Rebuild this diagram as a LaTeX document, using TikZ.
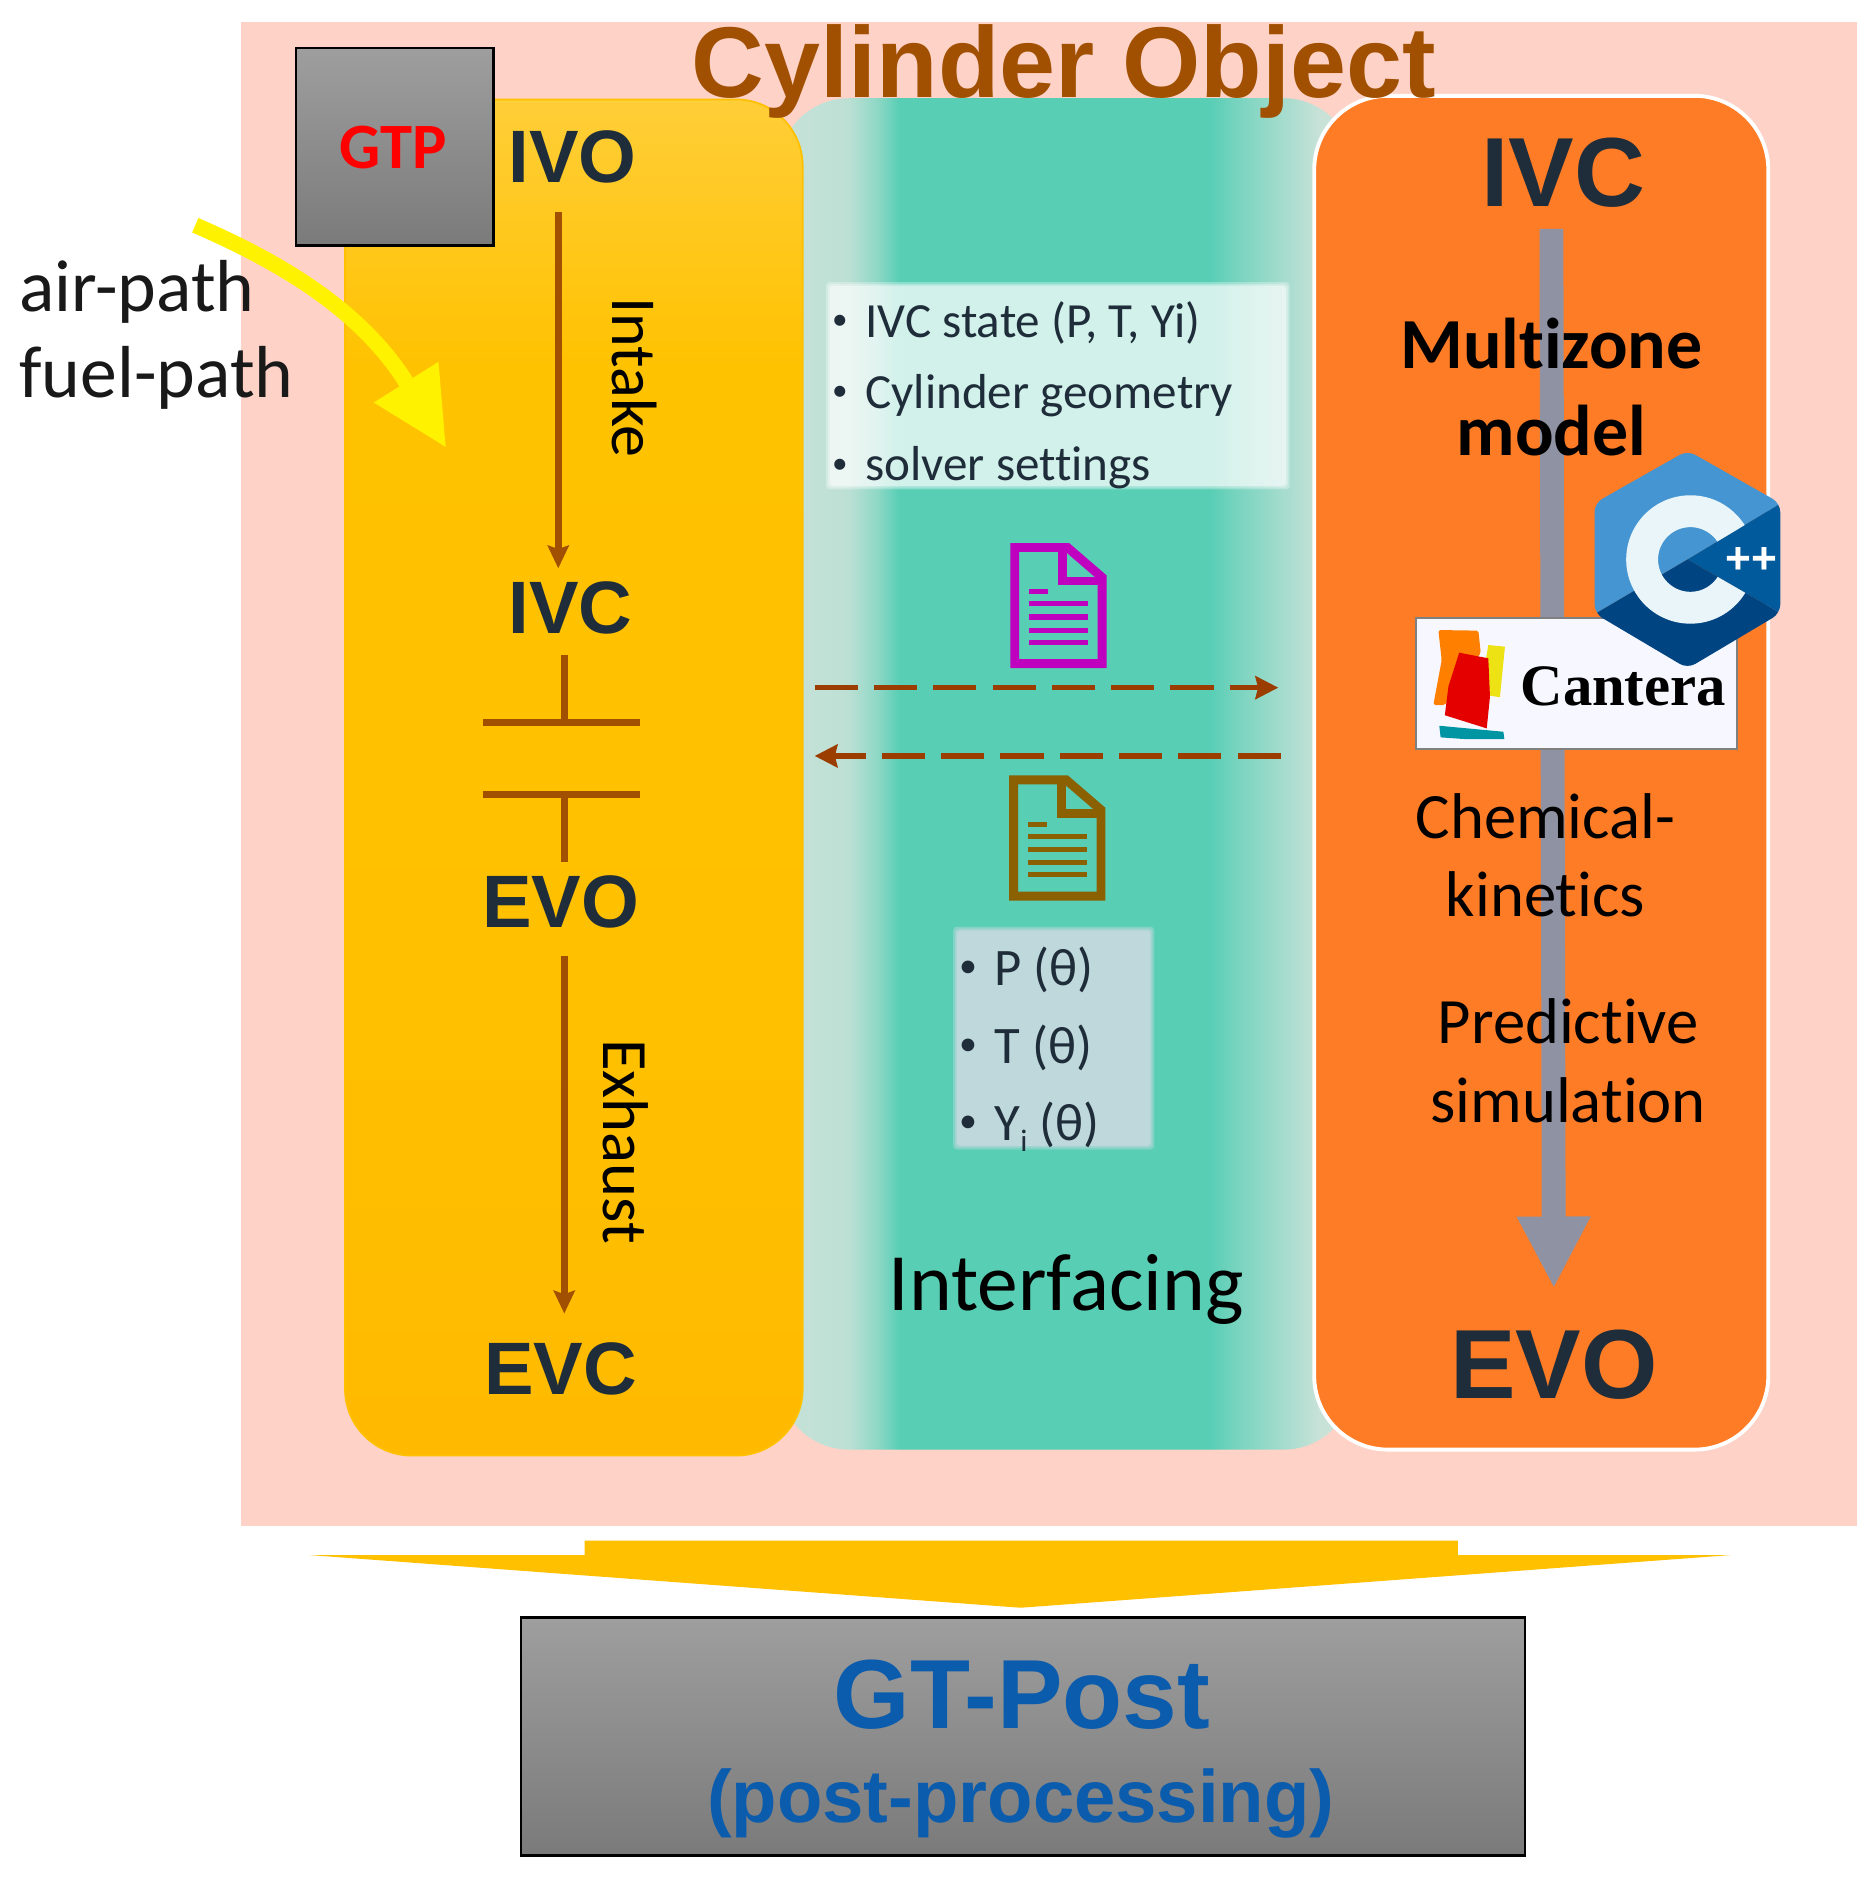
\documentclass[tikz,border=0pt]{standalone}
\usepackage{fontspec}
\usetikzlibrary{arrows.meta,calc}
\setmainfont{Carlito}[Ligatures=NoCommon]
\newfontfamily\arialf{Liberation Sans}
\newfontfamily\timesf{Liberation Serif}
\newcommand\fs[1]{\pgfmathsetlengthmacro\fsz{#1*0.6829pt}\fontsize{\fsz}{\fsz}\selectfont}
\definecolor{pinkbg}{HTML}{FFD2C8}
\definecolor{tealc}{HTML}{58CEB5}
\definecolor{tealedge}{HTML}{C8E2D8}
\definecolor{orangec}{HTML}{FF7C26}
\definecolor{inkc}{HTML}{1F2D3A}
\definecolor{brownc}{HTML}{A05000}
\definecolor{dashc}{HTML}{9C3D00}
\definecolor{goldc}{HTML}{FFC000}
\definecolor{greyarrow}{HTML}{8E92A3}
\definecolor{gtblue}{HTML}{0B5CAD}
\definecolor{titlec}{HTML}{A05000}
\definecolor{docmag}{HTML}{BF00BF}
\definecolor{docbrown}{HTML}{8B6000}
\definecolor{softblue}{HTML}{E5DCEA}
\pgfdeclarehorizontalshading{tealshade}{100bp}{
 color(0bp)=(tealedge); color(25bp)=(tealedge); color(31bp)=(tealedge!90!tealc); color(33.5bp)=(tealedge!50!tealc);
 color(35.5bp)=(tealc); color(62.5bp)=(tealc); color(64.5bp)=(tealc!75!tealedge);
 color(72bp)=(tealedge); color(100bp)=(tealedge)}
\pgfdeclareverticalshading{goldshade}{100bp}{
 color(0bp)=(goldc!90!orange); color(25bp)=(goldc!90!orange); color(40bp)=(goldc);
 color(65bp)=(goldc!97!yellow); color(75bp)=(goldc!78!white); color(100bp)=(goldc!78!white)}
\tikzset{
 x=0.024cm,y=-0.024cm,
 ttxt/.style={inner sep=0pt,anchor=base,text=inkc},
 lefttxt/.style={inner sep=0pt,anchor=base west,text=inkc},
 headA/.style={ttxt,font={\arialf\bfseries\fs{62}}},
 headB/.style={ttxt,font={\arialf\bfseries\fs{82}}},
 body/.style={ttxt,text=black,font=\fs{54}},
 listA/.style={lefttxt,font=\fs{41}},
 listB/.style={lefttxt,font=\fs{44}},
 bulA/.style={ttxt,font=\fs{26}},
 bulB/.style={ttxt,font=\fs{30}},
 sidetxt/.style={inner sep=0pt,rotate=-90,text=black},
 brownline/.style={draw=brownc,line width=4pt},
 brownarrow/.style={brownline,-{Stealth[length=13pt,width=12pt,inset=2pt]}},
 dasharrow/.style={draw=dashc,line width=3pt,dash pattern=on 24.6pt off 9.2pt,-{Stealth[length=13pt,width=13pt,inset=1.5pt]}},
 greybox/.style={draw=black,line width=1.5pt,top color=black!38,bottom color=black!52},
 softbox/.style={rounded corners=2pt},
}
\newcommand\docicon[3]{%
 \begin{scope}[shift={(#1,#2)}]
  \draw[#3,line width=5.1pt,line join=miter] (847,457) -- (891,457) -- (920,482) -- (920,554) -- (847,554) -- cycle;
  \draw[#3,line width=5pt] (887,457) -- (887,485) -- (920,485);
  \draw[#3,line width=3pt] (859,494) -- (875,494) (859,504) -- (908,504) (859,515) -- (908,515) (859,526) -- (908,526) (859,536) -- (908,536);
 \end{scope}}
\newcommand\softrect[5]{%
 \fill[#5,opacity=.3,softbox] (#1-1.5,#2-1.5) rectangle (#3+1.5,#4+1.5);
 \fill[#5,opacity=.3,softbox] (#1,#2) rectangle (#3,#4);
 \fill[#5,opacity=.45,softbox] (#1+1.5,#2+1.5) rectangle (#3-1.5,#4-1.5);}
\begin{document}
\begin{tikzpicture}
\useasboundingbox (0,0) rectangle (1565,1567.6);
\fill[white] (0,0) rectangle (1565,1567.6);
% backgrounds
\fill[pinkbg] (201,18) rectangle (1550,1274);
\shade[shading=tealshade,rounded corners=40pt] (650,82) rectangle (1130,1210);
\shade[shading=goldshade,rounded corners=38pt] (288,83) rectangle (670,1215);
\draw[goldc,line width=1pt,rounded corners=38pt] (288,83) rectangle (670,1215);
\fill[orangec,draw=white,line width=2.2pt,rounded corners=42pt] (1097,80) rectangle (1476,1210);
% title
\node[ttxt,text=titlec,font={\arialf\bfseries\fs{84}}] (title) at (888,81) {Cylinder Object};
% GTP
\path[greybox] (247,40) rectangle (412,205);
\node[ttxt,text=red,font={\bfseries\fs{54}}] (gtp) at (328,141) {GTP};
% left side text
\node[lefttxt,text=black!90,font=\fs{61.5}] (air) at (16,260) {air-path};
\node[lefttxt,text=black!90,font=\fs{61.5}] (fuel) at (16,332) {fuel-path};
% yellow arrow
\coordinate (yS) at (163,188);
\coordinate (yE) at (339,319);
\draw[yellow,line width=9pt] (yS) .. controls (225,215) and (298,254) .. (yE);
\fill[yellow] (366,302) -- (372,373) -- (312,336) -- cycle;
% left panel
\node[headA] (ivo) at (478,152) {IVO};
\node[headA] (ivcm) at (476,529) {IVC};
\node[headA] (evom) at (468,774) {EVO};
\node[headA] (evc) at (468,1164) {EVC};
\draw[brownarrow] ([shift={(-12,24)}]ivo.south) -- ([shift={(-10,-11)}]ivcm.north);
\draw[brownarrow] ([shift={(3,23)}]evom.south) -- ([shift={(3,-24)}]evc.north);
\node[sidetxt,font=\fs{53.5}] (intake) at (530,315) {Intake};
\node[sidetxt,font=\fs{54}] (exhaust) at (522,953) {Exhaust};
\draw[brownline] ([shift={(-5,17)}]ivcm.south) -- (471,603);
\draw[brownline] (403,603) -- (534,603);
\draw[brownline] (403,663) -- (534,663);
\draw[brownline] (471,663) -- ([shift={(3,-11)}]evom.north);
% middle panel
\softrect{691}{237}{1075}{407}{white}
\node[bulA] (b1) at (701,275) {•};
\node[bulA] (b2) at (701,334) {•};
\node[bulA] (b3) at (701,395) {•};
\node[listA] (l1) at (722,282) {IVC state (P, T, Yi)};
\node[listA] (l2) at (722,341) {Cylinder geometry};
\node[listA] (l3) at (722,401) {solver settings};
\docicon{0}{0}{docmag}
\coordinate (d1a) at (680,574);
\coordinate (d1b) at (1067,574);
\coordinate (d2a) at (1069,631);
\coordinate (d2b) at (680,631);
\draw[dasharrow] (d1a) -- (d1b);
\draw[dasharrow] (d2a) -- (d2b);
\docicon{-1}{194}{docbrown}
\softrect{797}{775}{962}{958}{softblue}
\node[bulB] (b4) at (808,816) {•};
\node[bulB] (b5) at (808,881) {•};
\node[bulB] (b6) at (808,945) {•};
\node[listB] (p1) at (830,823) {P (θ)};
\node[listB] (p2) at (830,888) {T (θ)};
\node[listB] (p3) at (830,952) {Y{\fs{26}\raisebox{-6pt}{i}} (θ)};
\node[ttxt,font=\fs{68},text=black] (iface) at (890,1094) {Interfacing};
% right panel
\node[headB] (ivcr) at (1305,172) {IVC};
\node[headB] (evor) at (1297,1167) {EVO};
\draw[greyarrow,line width=13.6pt,-{Triangle[length=41pt,width=39pt]}] ([shift={(-10,18)}]ivcr.south) -- ([shift={(0,-34)}]evor.north);
\node[ttxt,text=black,font={\bfseries\fs{60}}] (mz) at (1295,308) {Multizone};
\node[ttxt,text=black,font={\bfseries\fs{60}}] (mod) at (1295,380) {model};
\node[body] (ch1) at (1290,700) {Chemical-};
\node[body] (ch2) at (1290,765) {kinetics};
\node[body] (pr1) at (1309,871) {Predictive};
\node[body] (pr2) at (1309,937) {simulation};
% Cantera
\fill[white!97!blue,draw=black!50,line width=1.4pt] (1182,516) rectangle (1450,625);
\fill[orange!100!yellow,rounded corners=1pt] (1200.6,525.9) -- (1234,526.4) -- (1236,545) -- (1206,588.5) -- (1196.4,588.5) -- (1203.4,551) -- cycle;
\fill[yellow!92!black] (1242.3,538.4) -- (1256.2,539.8) -- (1252,582) -- (1235.4,579.3) -- cycle;
\fill[red!90!black] (1218,544.8) -- (1242.3,549.5) -- (1243.7,581.5) -- (1241,608) -- (1206,597) -- (1209,573) -- cycle;
\fill[fill={rgb,255:red,0;green,149;blue,163}] (1201.4,605.8) -- (1254.9,610.8) -- (1255.7,617) -- (1224,617) -- (1202.5,615.5) -- cycle;
\node[ttxt,text=black,font={\timesf\bfseries\fs{49}}] (cantera) at (1355,588.5) {Cantera};
% C++ logo
\begin{scope}
 \clip[rounded corners=5pt] (1408.6,376) -- (1486,420) -- (1486,512) -- (1408.6,558) -- (1331,512) -- (1331,420) -- cycle;
 \fill[fill={rgb,255:red,68;green,149;blue,209}] (1408.6,370) -- (1490,418) -- (1408.6,467) -- (1327,515) -- (1327,370) -- cycle;
 \fill[fill={rgb,255:red,0;green,90;blue,156}] (1490,418) -- (1408.6,467) -- (1490,514) -- cycle;
 \fill[fill={rgb,255:red,68;green,149;blue,209}] (1408.6,370) -- (1490,370) -- (1490,418) -- cycle;
 \fill[fill={rgb,255:red,0;green,68;blue,130}] (1408.6,467) -- (1490,514) -- (1490,560) -- (1327,560) -- (1327,515) -- cycle;
 \begin{scope}
  \clip (1408.6,467) -- (1490,418) -- (1490,370) -- (1327,370) -- (1327,560) -- (1490,560) -- (1490,514) -- cycle;
  \fill[even odd rule,fill={rgb,255:red,234;green,245;blue,250}] (1411,467) circle [radius=53.6] (1411,467) circle [radius=27];
 \end{scope}
\end{scope}
\node[ttxt,text=white,font={\arialf\bfseries\fs{37}}] (plus) at (1462,479) {++};
% bottom arrow
\fill[goldc] (488,1286) -- (1217,1286) -- (1217,1298) -- (1445,1298) -- (852,1342) -- (258,1298) -- (488,1298) -- cycle;
% GT-Post
\path[greybox] (435,1350) rectangle (1273,1549);
\node[ttxt,text=gtblue,font={\arialf\bfseries\fs{82}}] (gtpost) at (853,1443) {GT-Post};
\node[ttxt,text=gtblue,font={\arialf\bfseries\fs{62}}] (pp) at (852,1521) {(post-processing)};
\end{tikzpicture}
\end{document}
